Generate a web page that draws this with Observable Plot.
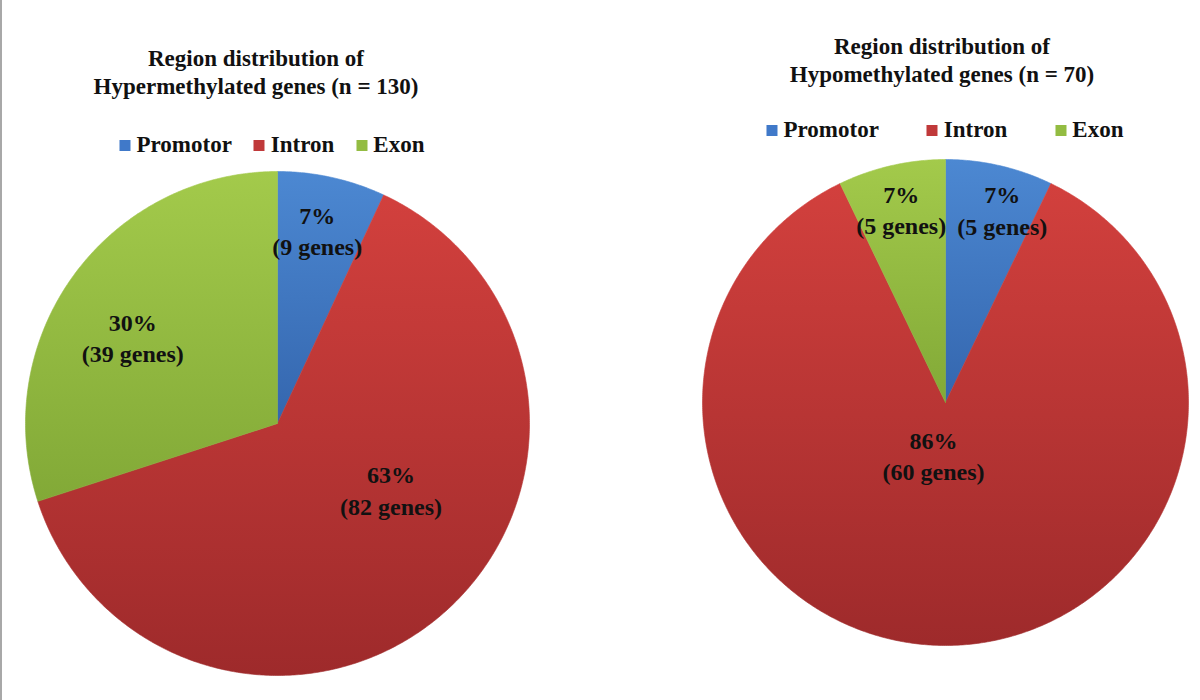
<!DOCTYPE html>
<html><head><meta charset="utf-8">
<script src="https://cdn.jsdelivr.net/npm/d3@7"></script>
<script src="https://cdn.jsdelivr.net/npm/@observablehq/plot@0.6"></script>
<style>
html,body{margin:0;padding:0;background:#fff;}
#page{position:relative;width:1200px;height:700px;overflow:hidden;font-family:"Liberation Serif","Times New Roman",serif;font-weight:bold;color:#111;}
#edge{position:absolute;left:0;top:0;width:2px;height:700px;background:#a8a8a8;}
.title{position:absolute;width:520px;text-align:center;font-size:23px;line-height:28px;white-space:nowrap;}
.legend{position:absolute;display:flex;align-items:center;font-size:23px;line-height:24px;white-space:nowrap;transform:translateX(-50%);}
.legend .item{display:flex;align-items:center;}
.legend .sw{width:11px;height:11px;margin-right:6px;}
.pie{position:absolute;}
</style></head><body><div id="page"><div id="edge"></div></div>
<script>
// ---- data ----
const categories = ["Promotor", "Intron", "Exon"];
const hyperGenes = [9, 82, 39];
const hypoGenes = [5, 60, 5];
const hyperTitle = ["Region distribution of", "Hypermethylated genes (n = 130)"];
const hypoTitle = ["Region distribution of", "Hypomethylated genes (n = 70)"];

// ---- styles ----
const solidColors = ["#4079C9", "#C0393A", "#93BC42"];
const gradStops = [["#4C88D2", "#3466AE"], ["#D2403D", "#9E2A2B"], ["#A3CA4B", "#82A937"]];

const page = document.getElementById("page");

function addTitle(lines, cx, top) {
  const d = document.createElement("div");
  d.className = "title";
  d.style.left = (cx - 260) + "px";
  d.style.top = top + "px";
  d.innerHTML = lines.map(l => `<div>${l}</div>`).join("");
  page.appendChild(d);
}

function addLegend(cx, top, gap) {
  const d = document.createElement("div");
  d.className = "legend";
  d.style.left = cx + "px";
  d.style.top = top + "px";
  categories.forEach((c, i) => {
    const it = document.createElement("div");
    it.className = "item";
    if (i > 0) it.style.marginLeft = gap + "px";
    it.innerHTML = `<span class="sw" style="background:${solidColors[i]}"></span><span>${c}</span>`;
    d.appendChild(it);
  });
  page.appendChild(d);
}

function makePie(values, r, left, top, placement, prefix) {
  const arcs = d3.pie().sort(null).value(d => d)(values);
  const total = d3.sum(values);
  const pts = [];
  arcs.forEach((a, i) => {
    const cat = categories[i];
    pts.push({cat, x: 0, y: 0});
    const n = Math.max(2, Math.ceil((a.endAngle - a.startAngle) / (Math.PI / 360)));
    for (let k = 0; k <= n; k++) {
      const t = a.startAngle + (a.endAngle - a.startAngle) * k / n;
      pts.push({cat, x: Math.sin(t), y: Math.cos(t)});
    }
    pts.push({cat, x: 0, y: 0});
  });
  const labels = arcs.map((a, i) => {
    const [dAng, rf] = placement[categories[i]];
    const t = (a.startAngle + a.endAngle) / 2 + dAng * Math.PI / 180;
    return {
      x: rf * Math.sin(t), y: rf * Math.cos(t),
      text: `${Math.round(values[i] / total * 100)}%\n(${values[i]} genes)`
    };
  });
  const ids = categories.map((c, i) => `${prefix}-g${i}`);
  const chart = Plot.plot({
    width: 2 * r, height: 2 * r, margin: 0,
    x: {domain: [-1, 1], axis: null},
    y: {domain: [-1, 1], axis: null},
    color: {domain: categories, range: ids.map(id => `url(#${id})`)},
    style: {background: "transparent", overflow: "visible"},
    marks: [
      Plot.line(pts, {x: "x", y: "y", z: "cat", fill: "cat", stroke: "cat", strokeWidth: 0.6, curve: "linear"}),
      Plot.text(labels, {x: "x", y: "y", text: "text", fill: "#111", fontSize: 24, fontWeight: "bold",
        fontFamily: "Liberation Serif, Times New Roman, serif", lineHeight: 1.3, lineAnchor: "middle"})
    ]
  });
  const svg = d3.select(chart.tagName.toLowerCase() === "svg" ? chart : chart.querySelector("svg"));
  const defs = svg.insert("defs", ":first-child");
  ids.forEach((id, i) => {
    const g = defs.append("linearGradient").attr("id", id).attr("x1", 0).attr("y1", 0).attr("x2", 0).attr("y2", 1);
    g.append("stop").attr("offset", "0%").attr("stop-color", gradStops[i][0]);
    g.append("stop").attr("offset", "100%").attr("stop-color", gradStops[i][1]);
  });
  chart.classList.add("pie");
  chart.style.left = left + "px";
  chart.style.top = top + "px";
  chart.style.position = "absolute";
  page.appendChild(chart);
}

// ---- left pie ----
addTitle(hyperTitle, 256, 45);
addLegend(272, 133, 22);
makePie(hyperGenes, 252, 277 - 252, 423 - 252,
  {Promotor: [-0.9, 0.786], Intron: [-18.5, 0.52], Exon: [-5, 0.67]}, "hyper");

// ---- right pie ----
addTitle(hypoTitle, 942, 33);
addLegend(945, 118, 48);
makePie(hypoGenes, 243, 945 - 243, 402 - 243,
  {Promotor: [3.5, 0.83], Intron: [13, 0.22], Exon: [0, 0.82]}, "hypo");
</script></body></html>
